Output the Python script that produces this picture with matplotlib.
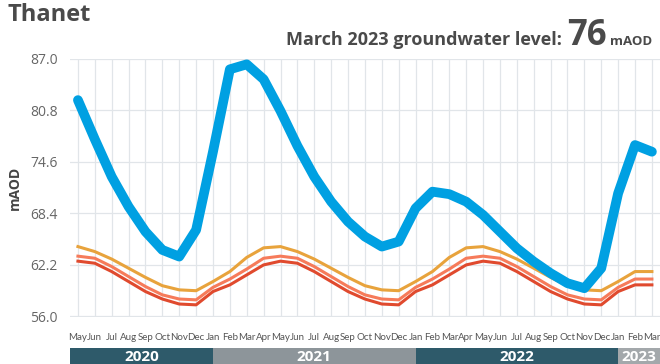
import matplotlib.pyplot as plt

plt.rcParams['font.family'] = ['Open Sans', 'DejaVu Sans']

# months May 2020 .. Mar 2023
months = ['May', 'Jun', 'Jul', 'Aug', 'Sep', 'Oct', 'Nov', 'Dec', 'Jan', 'Feb', 'Mar', 'Apr',
          'May', 'Jun', 'Jul', 'Aug', 'Sep', 'Oct', 'Nov', 'Dec', 'Jan', 'Feb', 'Mar', 'Apr',
          'May', 'Jun', 'Jul', 'Aug', 'Sep', 'Oct', 'Nov', 'Dec', 'Jan', 'Feb', 'Mar']

# groundwater level (mAOD)
level = [82.0, 77.3, 72.8, 69.2, 66.2, 64.0, 63.2, 66.4, 75.8, 85.7, 86.3, 84.5,
         80.7, 76.5, 72.8, 69.8, 67.4, 65.6, 64.4, 65.0, 69.0, 71.0, 70.7, 69.8,
         68.2, 66.2, 64.2, 62.6, 61.2, 60.0, 59.4, 61.8, 70.8, 76.6, 75.8]

# reference bands
upper = [64.4, 63.8, 62.9, 61.8, 60.7, 59.7, 59.2, 59.1, 60.2, 61.4, 63.1, 64.25,
         64.4, 63.8, 62.9, 61.8, 60.7, 59.7, 59.2, 59.1, 60.2, 61.4, 63.1, 64.25,
         64.4, 63.8, 62.9, 61.8, 60.7, 59.7, 59.2, 59.1, 60.2, 61.4, 61.4]
middle = [63.25, 63.0, 62.0, 60.8, 59.6, 58.6, 58.1, 58.0, 59.5, 60.5, 61.7, 63.0,
          63.25, 63.0, 62.0, 60.8, 59.6, 58.6, 58.1, 58.0, 59.5, 60.5, 61.7, 63.0,
          63.25, 63.0, 62.0, 60.8, 59.6, 58.6, 58.1, 58.0, 59.5, 60.5, 60.5]
lower = [62.65, 62.4, 61.4, 60.2, 59.0, 58.1, 57.5, 57.4, 59.0, 59.8, 61.0, 62.2,
         62.65, 62.4, 61.4, 60.2, 59.0, 58.1, 57.5, 57.4, 59.0, 59.8, 61.0, 62.2,
         62.65, 62.4, 61.4, 60.2, 59.0, 58.1, 57.5, 57.4, 59.0, 59.8, 59.8]

yticks = [56.0, 62.2, 68.4, 74.6, 80.8, 87.0]
years = ['2020', '2021', '2022', '2023']
year_start = [-0.47, 8, 20, 32]
year_end = [8, 20, 32, 34.48]
year_colors = ['#2e5a6a', '#8d959a', '#2e5a6a', '#a3a8ab']

x = list(range(len(months)))

fig = plt.figure(figsize=(6.6, 3.64), dpi=100)
ax = fig.add_axes([70 / 660, 47.5 / 364, 590 / 660, 258 / 364])

ax.plot(x, upper, color='#e8a33c', linewidth=2.2, solid_joinstyle='round', zorder=3)
ax.plot(x, middle, color='#f67b5a', linewidth=2.2, solid_joinstyle='round', zorder=3)
ax.plot(x, lower, color='#e04a2e', linewidth=2.2, solid_joinstyle='round', zorder=3)
ax.plot(x, level, color='#00a0e2', linewidth=7, solid_capstyle='round',
        solid_joinstyle='round', clip_on=False, zorder=4)

ax.set_xlim(-0.47, 34.48)
ax.set_ylim(56, 87)
ax.set_xticks(x)
ax.set_xticklabels(months, fontsize=7, color='#555555', family=['Lato', 'DejaVu Sans'])
ax.set_yticks(yticks)
ax.set_yticklabels([f'{v:.1f}' for v in yticks], fontsize=10, color='#666666')
ax.tick_params(axis='both', length=0)
ax.tick_params(axis='x', pad=12)
ax.tick_params(axis='y', pad=9)
ax.grid(True, color='#e1e5e9', linewidth=0.9)
ax.set_axisbelow(True)
for s in ax.spines.values():
    s.set_visible(False)
ax.set_ylabel('mAOD', fontsize=10, fontweight='bold', color='#444444', labelpad=6)

# year band
bx = fig.add_axes([70 / 660, 0, 590 / 660, 16 / 364])
bx.set_xlim(-0.47, 34.48)
bx.set_ylim(0, 1)
bx.axis('off')
for yr, a, b, c in zip(years, year_start, year_end, year_colors):
    bx.axvspan(a, b, color=c, linewidth=0)
    bx.text((a + b) / 2, 0.45, yr, ha='center', va='center', color='white',
            fontsize=11, fontweight='bold')

fig.text(8 / 660, 1 - 21 / 364, 'Thanet', fontsize=17, fontweight='bold',
         color='#4a4a4a', va='baseline', ha='left')
fig.text(562 / 660, 1 - 45 / 364, 'March 2023 groundwater level:', fontsize=13,
         fontweight='bold', color='#4a4a4a', va='baseline', ha='right')
fig.text(567 / 660, 1 - 45 / 364, '76', fontsize=25, fontweight='bold',
         color='#4a4a4a', va='baseline', ha='left')
fig.text(610 / 660, 1 - 45 / 364, 'mAOD', fontsize=9.5, fontweight='bold',
         color='#4a4a4a', va='baseline', ha='left')

fig.savefig('out.png', dpi=100)
